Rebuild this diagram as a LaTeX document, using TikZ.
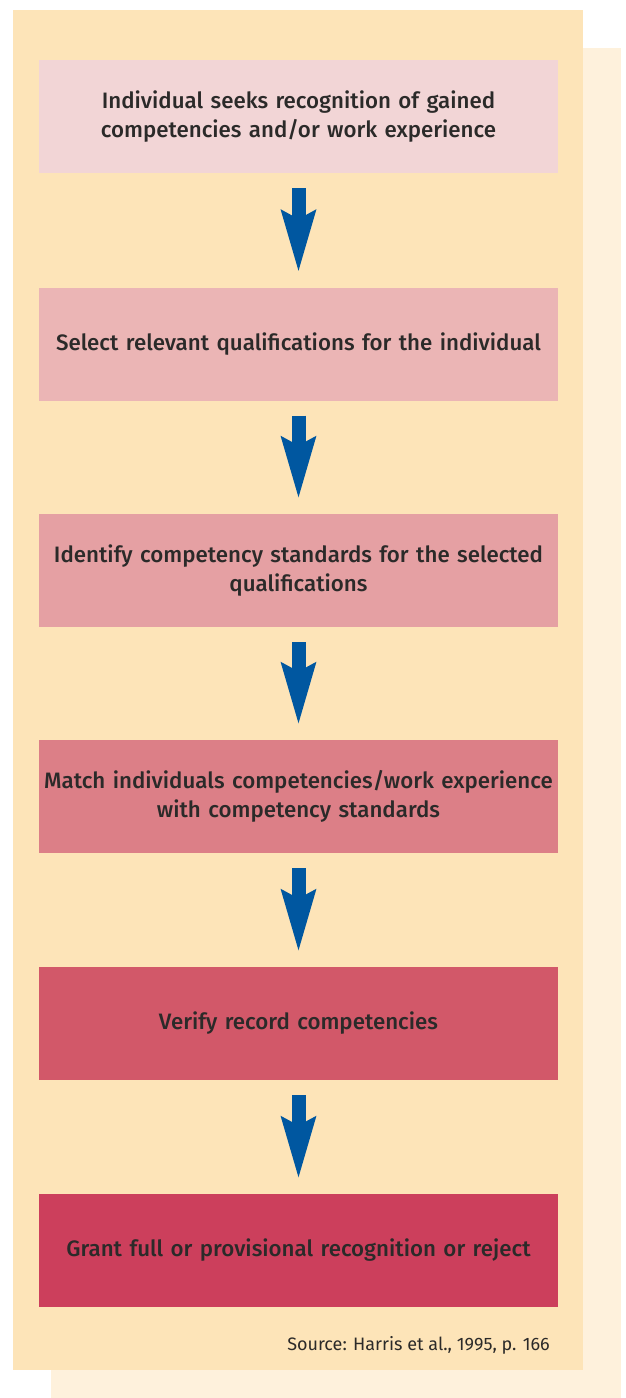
\documentclass[tikz,border=0pt]{standalone}
\usepackage{fontspec}
\setmainfont{Fira Sans}[BoldFont={Fira Sans Medium}]
\usetikzlibrary{arrows.meta}
\definecolor{panel}{HTML}{FDE4B8}
\definecolor{shadowc}{HTML}{FEF1DC}
\definecolor{cA}{HTML}{F2D5D6}
\definecolor{cB}{HTML}{EBB5B5}
\definecolor{cC}{HTML}{E5A0A3}
\definecolor{cD}{HTML}{DC7F87}
\definecolor{cE}{HTML}{D25869}
\definecolor{cF}{HTML}{CC3F5C}
\definecolor{arrowc}{HTML}{0057A0}
\definecolor{txt}{HTML}{2B2A29}
\tikzset{
  stepbox/.style={minimum width=519pt, minimum height=113pt, inner sep=0pt,
    text width=510pt, align=center, text=txt,
    font=\fontsize{22.3pt}{29pt}\selectfont\bfseries},
  flowarrow/.style={draw=arrowc, line width=14pt,
    -{Stealth[width=32pt,length=61pt,inset=7pt]}, shorten <=15pt, shorten >=14pt}
}
\begin{document}
\begin{tikzpicture}[x=1pt,y=-1pt]
\useasboundingbox (0,0) rectangle (625,1398);
\fill[shadowc] (51,48) rectangle (621,1398);
\fill[panel] (13,10) rectangle (583,1370);
\node[stepbox, fill=cA] (b1) at (298.5,116.5) {Individual seeks recognition of gained\\competencies and/or work experience};
\node[stepbox, fill=cB] (b2) at (298.5,344) {Select relevant qualifications for the individual};
\node[stepbox, fill=cC] (b3) at (298.5,570.5) {Identify competency standards for the selected\\qualifications};
\node[stepbox, fill=cD] (b4) at (298.5,796.5) {Match individuals competencies/work experience\\with competency standards};
\node[stepbox, fill=cE] (b5) at (298.5,1023.5) {Verify record competencies};
\node[stepbox, fill=cF] (b6) at (298.5,1250.5) {Grant full or provisional recognition or reject};
\foreach \a/\b in {b1/b2,b2/b3,b3/b4,b4/b5,b5/b6}
  \draw[flowarrow] (\a.south) -- (\b.north);
\node[anchor=base east, inner sep=0pt, text=txt, font=\fontsize{18pt}{21pt}\selectfont] (src) at (550,1350) {Source: Harris et al., 1995, p. 166};
\end{tikzpicture}
\end{document}
